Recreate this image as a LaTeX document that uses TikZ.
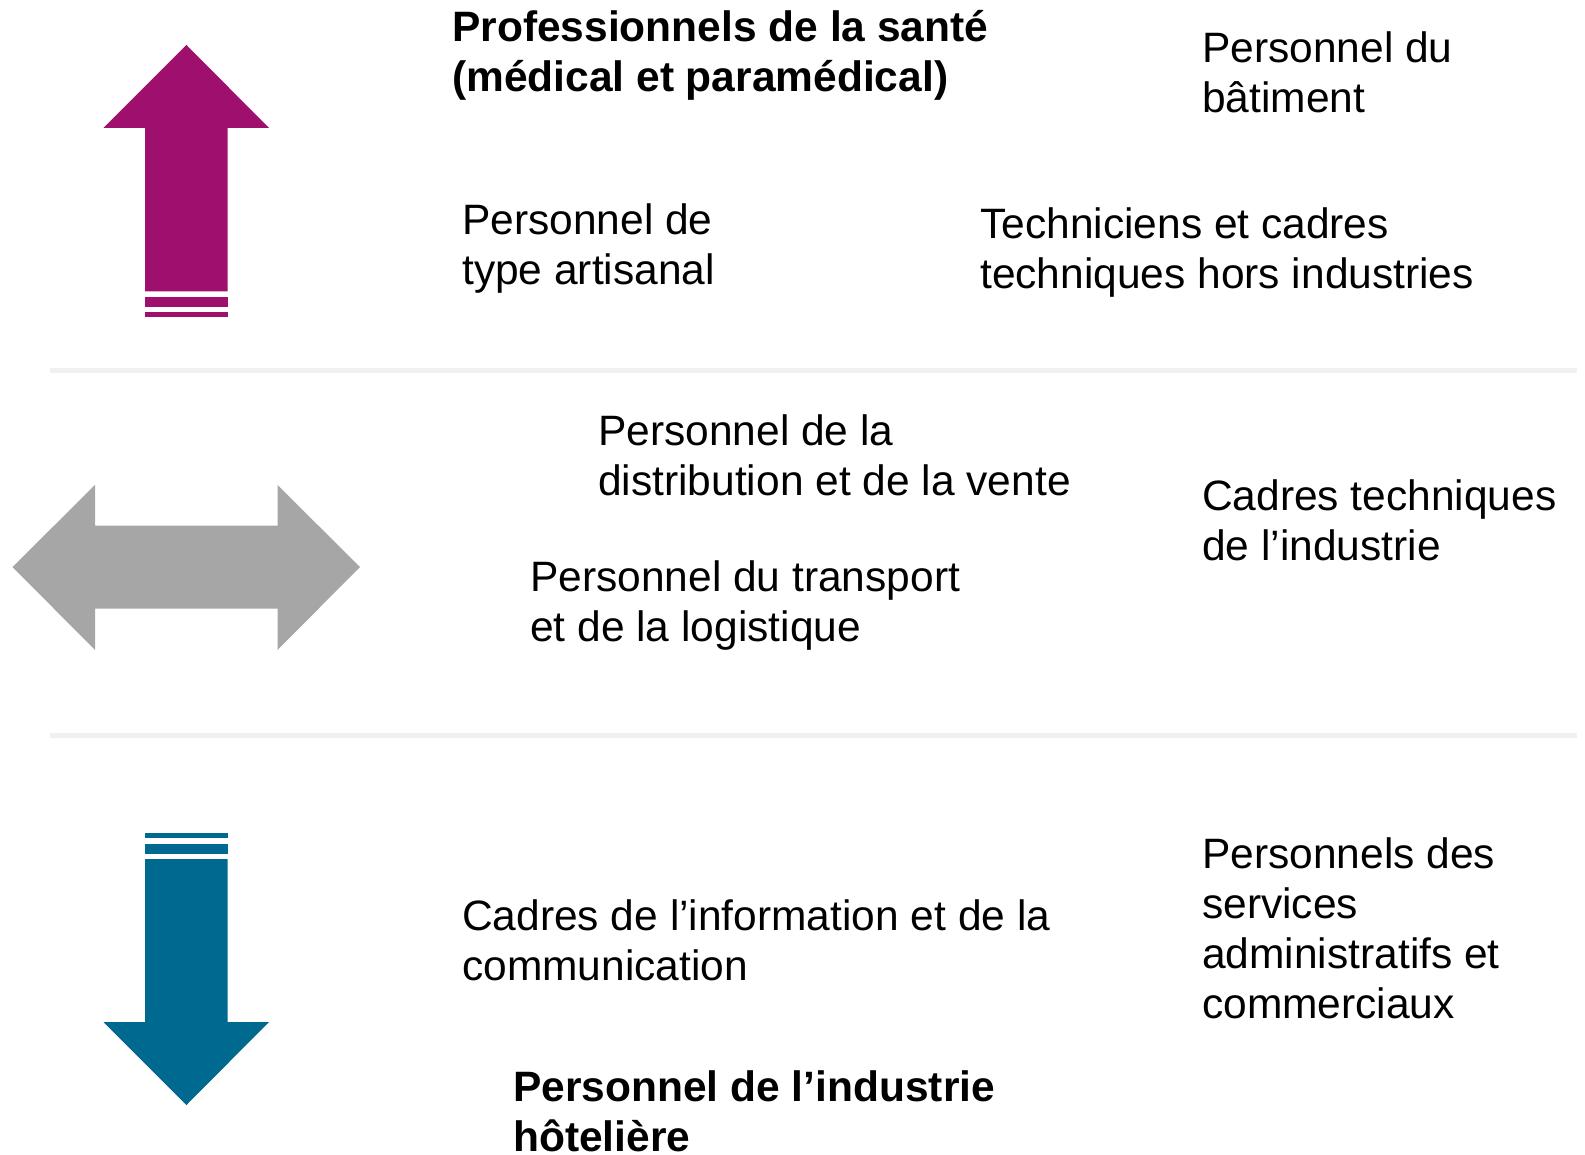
\documentclass[tikz,border=0pt]{standalone}
\usepackage{fontspec}
\setmainfont{Liberation Sans}
\definecolor{upc}{HTML}{9E0F6E}
\definecolor{downc}{HTML}{006990}
\definecolor{midc}{HTML}{A6A6A6}
\definecolor{sepc}{HTML}{F0F0F0}
\tikzset{
  lbl/.style={anchor=base west, inner sep=0pt, align=left, font=\fontsize{42.5}{50}\selectfont},
  blbl/.style={lbl, font=\fontsize{42.5}{50}\selectfont\bfseries},
  sep/.style={draw=sepc, line width=5pt},
}
\begin{document}
\begin{tikzpicture}[x=1pt,y=-1pt]
\useasboundingbox (0,0) rectangle (1585,1155);
% separators
\draw[sep] (50,371) -- (1577,371);
\draw[sep] (50,735) -- (1577,735);
% up arrow
\fill[upc] (186.5,45) -- (269,128) -- (227.5,128) -- (227.5,291.5) -- (145,291.5) -- (145,128) -- (103.5,128) -- cycle;
\fill[upc] (145,297.5) rectangle (227.5,307.5);
\fill[upc] (145,312.5) rectangle (227.5,317.5);
% double arrow
\fill[midc] (12.5,567) -- (95,485) -- (95,525.5) -- (277.5,525.5) -- (277.5,485) -- (360,567) -- (277.5,650) -- (277.5,608.5) -- (95,608.5) -- (95,650) -- cycle;
% down arrow
\fill[downc] (145,832.5) rectangle (227.5,838);
\fill[downc] (145,843.5) rectangle (227.5,853.5);
\fill[downc] (145,859) -- (227.5,859) -- (227.5,1022) -- (269,1022) -- (186.5,1105) -- (103.5,1022) -- (145,1022) -- cycle;
% texts (y = baseline of the last line)
\node[blbl] (sante) at (452,92) {Professionnels de la santé\\(médical et paramédical)};
\node[lbl] (batiment) at (1202,113) {Personnel du\\bâtiment};
\node[lbl] (artisanal) at (462,284.5) {Personnel de\\type artisanal};
\node[lbl] (techniciens) at (980,288.5) {Techniciens et cadres\\techniques hors industries};
\node[lbl] (vente) at (598,495.5) {Personnel de la\\distribution et de la vente};
\node[lbl] (industrie) at (1202,560.5) {Cadres techniques\\de l’industrie};
\node[lbl] (transport) at (530,641.5) {Personnel du transport\\et de la logistique};
\node[lbl] (info) at (462,980.5) {Cadres de l’information et de la\\communication};
\node[lbl] (admin) at (1202,1018.5) {Personnels des\\services\\administratifs et\\commerciaux};
\node[blbl] (hotel) at (513,1151.5) {Personnel de l’industrie\\hôtelière};
\end{tikzpicture}
\end{document}
